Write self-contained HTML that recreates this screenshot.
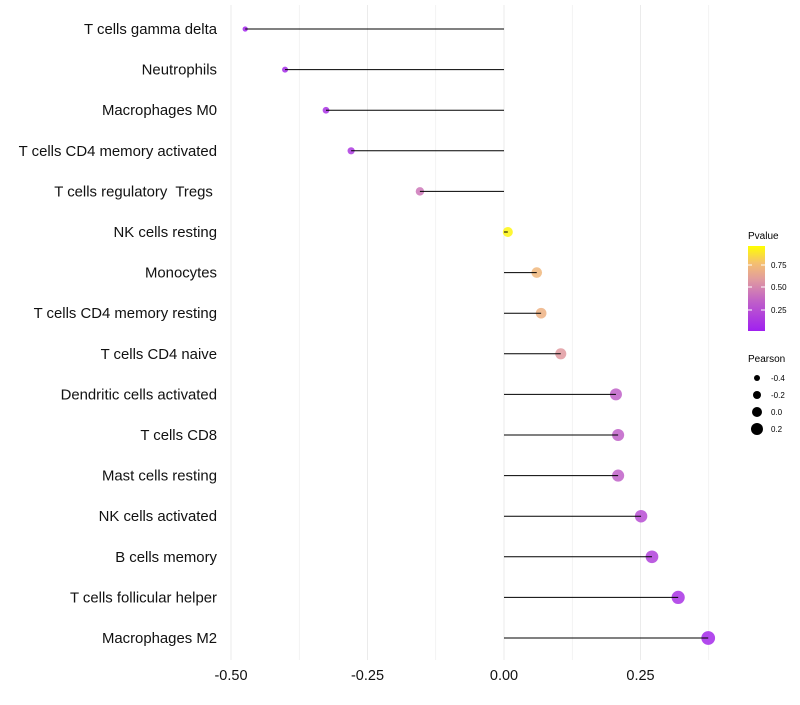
<!DOCTYPE html>
<html><head><meta charset="utf-8"><style>
body{margin:0;background:#fff;font-family:"Liberation Sans",sans-serif}
text{white-space:pre}
</style></head><body>
<svg id="chart" width="800" height="700" xmlns="http://www.w3.org/2000/svg">
<defs><linearGradient id="pg" x1="0" y1="1" x2="0" y2="0">
<stop offset="0" stop-color="#a020f0"/><stop offset="0.35" stop-color="#c060c8"/><stop offset="0.6" stop-color="#e09aa0"/><stop offset="0.8" stop-color="#f5c070"/><stop offset="1" stop-color="#ffff00"/></linearGradient></defs>
<g id="grid"></g><g id="marks"></g><g id="labels"></g>
<g>
<text x="748" y="239" font-size="10">Pvalue</text>
<rect x="748" y="246" width="17" height="85" fill="url(#pg)"/>
<line x1="748" y1="265" x2="752" y2="265" stroke="#fff"/><line x1="761" y1="265" x2="765" y2="265" stroke="#fff"/>
<line x1="748" y1="287" x2="752" y2="287" stroke="#fff"/><line x1="761" y1="287" x2="765" y2="287" stroke="#fff"/>
<line x1="748" y1="310" x2="752" y2="310" stroke="#fff"/><line x1="761" y1="310" x2="765" y2="310" stroke="#fff"/>
<text x="771" y="268" font-size="8">0.75</text><text x="771" y="290" font-size="8">0.50</text><text x="771" y="313" font-size="8">0.25</text>
</g>
<g>
<text x="748" y="362" font-size="10">Pearson</text>
<circle cx="757" cy="378" r="3"/><text x="771" y="381" font-size="8">-0.4</text>
<circle cx="757" cy="395" r="4"/><text x="771" y="398" font-size="8">-0.2</text>
<circle cx="757" cy="412" r="5"/><text x="771" y="415" font-size="8">0.0</text>
<circle cx="757" cy="429" r="6"/><text x="771" y="432" font-size="8">0.2</text>
</g>
</svg>
<script>
const categories=["T cells gamma delta","Neutrophils","Macrophages M0","T cells CD4 memory activated","T cells regulatory  Tregs ","NK cells resting","Monocytes","T cells CD4 memory resting","T cells CD4 naive","Dendritic cells activated","T cells CD8","Mast cells resting","NK cells activated","B cells memory","T cells follicular helper","Macrophages M2"];
const pearson=[-0.474,-0.401,-0.326,-0.280,-0.154,0.007,0.060,0.068,0.104,0.205,0.209,0.209,0.251,0.271,0.319,0.374];
const pvalues=[0.03,0.06,0.1,0.14,0.45,0.97,0.75,0.72,0.6,0.35,0.35,0.35,0.25,0.18,0.1,0.05];
const xTicks=[-0.5,-0.25,0,0.25];
const xTickLabels=["-0.50","-0.25","0.00","0.25"];
const NS="http://www.w3.org/2000/svg";
const x=v=>504+v*546;
const y=i=>29+i*40.6;
const rad=v=>5+5*v;
const stops=[[0,[160,32,240]],[0.35,[192,96,200]],[0.6,[224,154,160]],[0.8,[245,192,112]],[1,[255,255,0]]];
function col(p){for(let k=1;k<stops.length;k++){if(p<=stops[k][0]){const a=stops[k-1],b=stops[k],t=(p-a[0])/(b[0]-a[0]);return "rgb("+a[1].map((c,j)=>Math.round(c+(b[1][j]-c)*t)).join(",")+")";}}return "rgb(255,255,0)";}
function mk(t,a,p){const e=document.createElementNS(NS,t);for(const k in a)e.setAttribute(k,a[k]);p.appendChild(e);return e;}
const g=document.getElementById("grid"),m=document.getElementById("marks"),l=document.getElementById("labels");
for(let v=-0.5;v<=0.376;v+=0.125){mk("line",{x1:x(v),x2:x(v),y1:5,y2:660,stroke:"#ebebeb","stroke-width":Math.abs(v*8%2)<0.01?1:0.6},g);}
xTicks.forEach((v,i)=>{const t=mk("text",{x:x(v),y:680,"text-anchor":"middle","font-size":14.5,fill:"#111"},l);t.textContent=xTickLabels[i];

});
categories.forEach((c,i)=>{
const t=mk("text",{x:217,y:y(i)+5,"text-anchor":"end","font-size":14.9,fill:"#111"},l);t.textContent=c;


const ci=mk("circle",{cx:x(pearson[i]),cy:y(i),r:rad(pearson[i]),fill:col(pvalues[i]),"fill-opacity":0.85},m);


const ln=mk("line",{x1:x(0),x2:x(pearson[i]),y1:y(i),y2:y(i),stroke:"#000","stroke-width":1},m);


});
</script>
</body></html>
